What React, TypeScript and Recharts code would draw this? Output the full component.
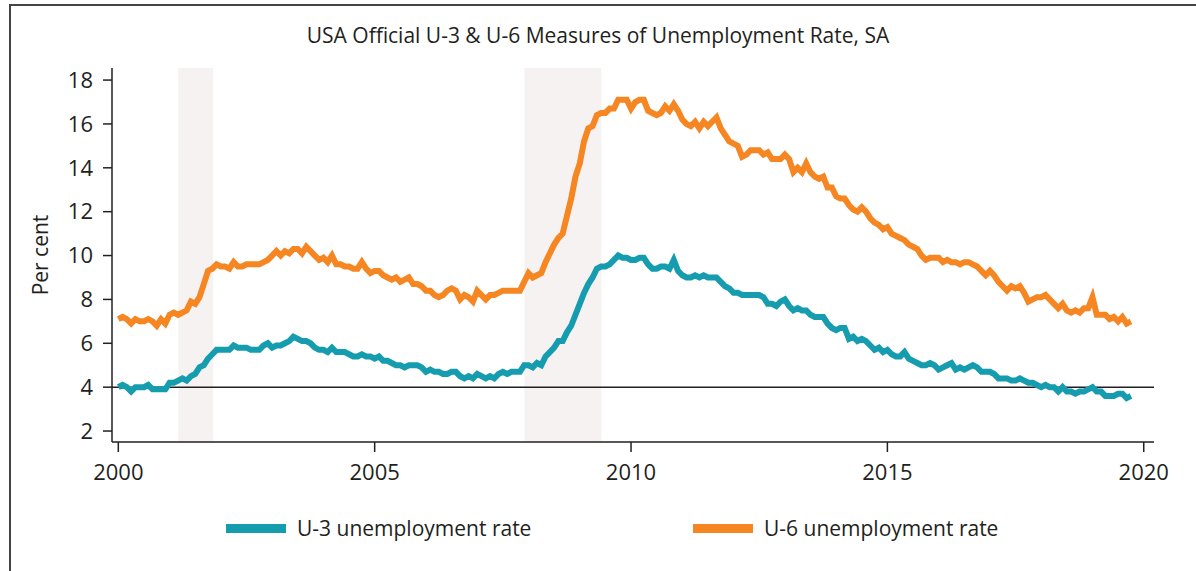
import React from "react";
import {
  LineChart,
  Line,
  XAxis,
  YAxis,
  ReferenceArea,
  ReferenceLine,
} from "recharts";

const startYear = 2000;

// monthly, Jan 2000 .. Oct 2019
const u3 = [
  4.0, 4.1, 4.0, 3.8, 4.0, 4.0, 4.0, 4.1, 3.9, 3.9, 3.9, 3.9,
  4.2, 4.2, 4.3, 4.4, 4.3, 4.5, 4.6, 4.9, 5.0, 5.3, 5.5, 5.7,
  5.7, 5.7, 5.7, 5.9, 5.8, 5.8, 5.8, 5.7, 5.7, 5.7, 5.9, 6.0,
  5.8, 5.9, 5.9, 6.0, 6.1, 6.3, 6.2, 6.1, 6.1, 6.0, 5.8, 5.7,
  5.7, 5.6, 5.8, 5.6, 5.6, 5.6, 5.5, 5.4, 5.4, 5.5, 5.4, 5.4,
  5.3, 5.4, 5.2, 5.2, 5.1, 5.0, 5.0, 4.9, 5.0, 5.0, 5.0, 4.9,
  4.7, 4.8, 4.7, 4.7, 4.6, 4.6, 4.7, 4.7, 4.5, 4.4, 4.5, 4.4,
  4.6, 4.5, 4.4, 4.5, 4.4, 4.6, 4.7, 4.6, 4.7, 4.7, 4.7, 5.0,
  5.0, 4.9, 5.1, 5.0, 5.4, 5.6, 5.8, 6.1, 6.1, 6.5, 6.8, 7.3,
  7.8, 8.3, 8.7, 9.0, 9.4, 9.5, 9.5, 9.6, 9.8, 10.0, 9.9, 9.9,
  9.8, 9.8, 9.9, 9.9, 9.6, 9.4, 9.4, 9.5, 9.5, 9.4, 9.8, 9.3,
  9.1, 9.0, 9.0, 9.1, 9.0, 9.1, 9.0, 9.0, 9.0, 8.8, 8.6, 8.5,
  8.3, 8.3, 8.2, 8.2, 8.2, 8.2, 8.2, 8.1, 7.8, 7.8, 7.7, 7.9,
  8.0, 7.7, 7.5, 7.6, 7.5, 7.5, 7.3, 7.2, 7.2, 7.2, 6.9, 6.7,
  6.6, 6.7, 6.7, 6.2, 6.3, 6.1, 6.2, 6.1, 5.9, 5.7, 5.8, 5.6,
  5.7, 5.5, 5.4, 5.4, 5.6, 5.3, 5.2, 5.1, 5.0, 5.0, 5.1, 5.0,
  4.8, 4.9, 5.0, 5.1, 4.8, 4.9, 4.8, 4.9, 5.0, 4.9, 4.7, 4.7,
  4.7, 4.6, 4.4, 4.4, 4.4, 4.3, 4.3, 4.4, 4.3, 4.2, 4.2, 4.1,
  4.0, 4.1, 4.0, 4.0, 3.8, 4.0, 3.8, 3.8, 3.7, 3.8, 3.8, 3.9,
  4.0, 3.8, 3.8, 3.6, 3.6, 3.6, 3.7, 3.7, 3.5, 3.6,
];

const u6 = [
  7.1, 7.2, 7.1, 6.9, 7.1, 7.0, 7.0, 7.1, 7.0, 6.8, 7.1, 6.9,
  7.3, 7.4, 7.3, 7.4, 7.5, 7.9, 7.8, 8.1, 8.7, 9.3, 9.4, 9.6,
  9.5, 9.5, 9.4, 9.7, 9.5, 9.5, 9.6, 9.6, 9.6, 9.6, 9.7, 9.8,
  10.0, 10.2, 10.0, 10.2, 10.1, 10.3, 10.3, 10.1, 10.4, 10.2, 10.0, 9.8,
  9.9, 9.7, 10.0, 9.6, 9.6, 9.5, 9.5, 9.4, 9.4, 9.7, 9.4, 9.2,
  9.3, 9.3, 9.1, 9.0, 8.9, 9.0, 8.8, 8.9, 9.0, 8.7, 8.7, 8.6,
  8.4, 8.4, 8.2, 8.1, 8.2, 8.4, 8.5, 8.4, 8.0, 8.2, 8.1, 7.9,
  8.4, 8.2, 8.0, 8.2, 8.2, 8.3, 8.4, 8.4, 8.4, 8.4, 8.4, 8.8,
  9.2, 9.0, 9.1, 9.2, 9.7, 10.1, 10.5, 10.8, 11.0, 11.8, 12.6, 13.6,
  14.2, 15.2, 15.8, 15.9, 16.4, 16.5, 16.5, 16.7, 16.7, 17.1, 17.1, 17.1,
  16.7, 17.0, 17.1, 17.1, 16.6, 16.5, 16.4, 16.5, 16.8, 16.6, 16.9, 16.6,
  16.2, 16.0, 15.9, 16.1, 15.8, 16.1, 15.9, 16.1, 16.3, 15.8, 15.5, 15.2,
  15.1, 15.0, 14.5, 14.6, 14.8, 14.8, 14.8, 14.6, 14.7, 14.4, 14.4, 14.4,
  14.6, 14.4, 13.8, 14.0, 13.8, 14.2, 13.8, 13.6, 13.5, 13.6, 13.1, 13.1,
  12.7, 12.6, 12.6, 12.3, 12.1, 12.0, 12.2, 12.0, 11.7, 11.5, 11.4, 11.2,
  11.3, 11.0, 10.9, 10.8, 10.7, 10.5, 10.4, 10.3, 10.0, 9.8, 9.9, 9.9,
  9.9, 9.7, 9.8, 9.7, 9.7, 9.6, 9.7, 9.7, 9.6, 9.5, 9.3, 9.1,
  9.3, 9.1, 8.8, 8.6, 8.4, 8.6, 8.5, 8.6, 8.3, 7.9, 8.0, 8.1,
  8.1, 8.2, 8.0, 7.8, 7.6, 7.8, 7.5, 7.4, 7.5, 7.4, 7.6, 7.6,
  8.1, 7.3, 7.3, 7.3, 7.1, 7.2, 7.0, 7.2, 6.9, 7.0,
];

const recessions = [
  [2001.17, 2001.85],
  [2007.92, 2009.42],
];

const xTicks = [2000, 2005, 2010, 2015, 2020];
const yTicks = [2, 4, 6, 8, 10, 12, 14, 16, 18];

const data = u3.map((v, i) => ({
  t: startYear + i / 12,
  u3: v,
  u6: u6[i],
}));

const TEAL = "#159daf";
const ORANGE = "#f68622";
const INK = "#231f20";
const FONT = "'Open Sans', sans-serif";

function LegendItem({ color, label, left }: { color: string; label: string; left: number }) {
  return (
    <div style={{ position: "absolute", left, top: 514, display: "flex", alignItems: "center" }}>
      <div style={{ width: 60, height: 9, background: color, marginRight: 11 }} />
      <span style={{ fontFamily: FONT, fontSize: 21, color: INK }}>{label}</span>
    </div>
  );
}

export default function App() {
  return (
    <div style={{ position: "absolute", left: 0, top: 0, width: 1196, height: 571, background: "#fff", overflow: "hidden" }}>
      <div
        style={{
          position: "absolute",
          left: 9,
          top: 4,
          width: 1200,
          height: 600,
          borderLeft: "2px solid #444",
          borderTop: "2px solid #444",
        }}
      />
      <div
        style={{
          position: "absolute",
          left: 0,
          width: 1196,
          top: 21,
          textAlign: "center",
          fontFamily: FONT,
          fontSize: 21,
          color: INK,
        }}
      >
        USA Official U-3 &amp; U-6 Measures of Unemployment Rate, SA
      </div>
      <div style={{ position: "absolute", left: 0, top: 0 }}>
        <LineChart
          width={1196}
          height={571}
          data={data}
          margin={{ top: 68, right: 42, bottom: 89, left: 30 }}
        >
          <XAxis
            dataKey="t"
            type="number"
            domain={[1999.877, 2020.2]}
            ticks={xTicks}
            allowDataOverflow
            tickSize={10}
            tickMargin={12}
            height={40}
            stroke={INK}
            strokeWidth={1.5}
            tick={{ fontFamily: FONT, fontSize: 22, fill: INK }}
          />
          <XAxis
            xAxisId="top"
            orientation="top"
            dataKey="t"
            type="number"
            domain={[1999.877, 2020.2]}
            height={0}
            tick={false}
            tickLine={false}
            stroke={INK}
            strokeWidth={1.5}
          />
          <YAxis
            domain={[1.5, 18.55]}
            ticks={yTicks}
            allowDataOverflow
            width={82}
            tickSize={9}
            tickMargin={10}
            stroke={INK}
            strokeWidth={1.5}
            tick={{ fontFamily: FONT, fontSize: 22, fill: INK }}
            label={{
              value: "Per cent",
              angle: -90,
              position: "insideLeft",
              offset: 0,
              dx: 11,
              style: { fontFamily: FONT, fontSize: 21, fill: INK, textAnchor: "middle" },
            }}
          />
          <YAxis
            yAxisId="right"
            orientation="right"
            domain={[1.5, 18.55]}
            width={0}
            tick={false}
            tickLine={false}
            stroke={INK}
            strokeWidth={1.5}
          />
          {recessions.map(([a, b], i) => (
            <ReferenceArea
              key={i}
              x1={a}
              x2={b}
              y1={1.5}
              y2={18.55}
              fill="#f6f2f1"
              fillOpacity={1}
              stroke="none"
              ifOverflow="hidden"
            />
          ))}
          <ReferenceLine y={4} stroke={INK} strokeWidth={1.5} />
          <Line
            type="linear"
            dataKey="u3"
            stroke={TEAL}
            strokeWidth={6}
            dot={false}
            isAnimationActive={false}
          />
          <Line
            type="linear"
            dataKey="u6"
            stroke={ORANGE}
            strokeWidth={6}
            dot={false}
            isAnimationActive={false}
          />
        </LineChart>
      </div>
      <LegendItem color={TEAL} label="U-3 unemployment rate" left={226} />
      <LegendItem color={ORANGE} label="U-6 unemployment rate" left={693} />
    </div>
  );
}
